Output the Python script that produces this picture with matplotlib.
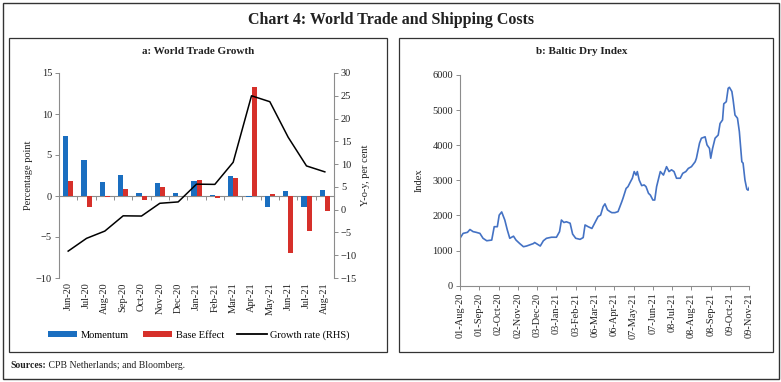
import matplotlib
matplotlib.use("Agg")
import matplotlib.pyplot as plt
import matplotlib.dates as mdates
from matplotlib.patches import Rectangle, Patch
from matplotlib.lines import Line2D
import numpy as np
import pandas as pd

# ---------------- data ----------------
months = ["Jun-20", "Jul-20", "Aug-20", "Sep-20", "Oct-20", "Nov-20", "Dec-20",
          "Jan-21", "Feb-21", "Mar-21", "Apr-21", "May-21", "Jun-21", "Jul-21", "Aug-21"]
momentum = [7.35, 4.4, 1.75, 2.6, 0.4, 1.6, 0.33, 1.85, 0.1, 2.45, -0.1, -1.4, 0.65, -1.4, 0.7]
base_effect = [1.8, -1.35, -0.15, 0.8, -0.5, 1.1, -0.05, 1.95, -0.2, 2.15, 13.25, 0.3, -6.95, -4.3, -1.85]
growth_rate = [-9.1, -6.3, -4.7, -1.35, -1.4, 1.4, 1.7, 5.6, 5.55, 10.4, 25.0, 23.7, 15.9, 9.6, 8.3]

bdi_dates = ["2020-08-01", "2020-08-06", "2020-08-13", "2020-08-17", "2020-08-22", "2020-08-27",
             "2020-09-02", "2020-09-07", "2020-09-13", "2020-09-21", "2020-09-25", "2020-09-30",
             "2020-10-03", "2020-10-07", "2020-10-12", "2020-10-16", "2020-10-20", "2020-10-26",
             "2020-10-30", "2020-11-05", "2020-11-11", "2020-11-16", "2020-11-27", "2020-11-29",
             "2020-12-08", "2020-12-13", "2020-12-18", "2020-12-26", "2021-01-03", "2021-01-08",
             "2021-01-11", "2021-01-15", "2021-01-19", "2021-01-25", "2021-01-29", "2021-02-03",
             "2021-02-10", "2021-02-15", "2021-02-18", "2021-02-23", "2021-03-01", "2021-03-06",
             "2021-03-11", "2021-03-15", "2021-03-19", "2021-03-22", "2021-03-26", "2021-03-30",
             "2021-04-02", "2021-04-07", "2021-04-12", "2021-04-18", "2021-04-20", "2021-04-25",
             "2021-04-28", "2021-05-02", "2021-05-05", "2021-05-08", "2021-05-11", "2021-05-13",
             "2021-05-16", "2021-05-20", "2021-05-24", "2021-05-27", "2021-05-31", "2021-06-03",
             "2021-06-07", "2021-06-10", "2021-06-13", "2021-06-17", "2021-06-19", "2021-06-24",
             "2021-06-29", "2021-07-03", "2021-07-07", "2021-07-11", "2021-07-15", "2021-07-21",
             "2021-07-25", "2021-07-30", "2021-08-03", "2021-08-08", "2021-08-14", "2021-08-16",
             "2021-08-21", "2021-08-24", "2021-08-30", "2021-09-02", "2021-09-06", "2021-09-08",
             "2021-09-11", "2021-09-15", "2021-09-20", "2021-09-23", "2021-09-27", "2021-09-29",
             "2021-10-03", "2021-10-06", "2021-10-08", "2021-10-12", "2021-10-14", "2021-10-17",
             "2021-10-21", "2021-10-24", "2021-10-28", "2021-10-30", "2021-11-02", "2021-11-05",
             "2021-11-07", "2021-11-09"]
bdi_values = [1350, 1490, 1520, 1600, 1540, 1520,
              1490, 1350, 1280, 1300, 1680, 1680,
              2010, 2100, 1870, 1590, 1350, 1410,
              1300, 1200, 1110, 1130, 1200, 1230,
              1130, 1280, 1350, 1380, 1380, 1540,
              1870, 1800, 1820, 1780, 1470, 1350,
              1320, 1370, 1730, 1680, 1630, 1800,
              1970, 2010, 2250, 2330, 2160, 2110,
              2080, 2080, 2110, 2390, 2490, 2770,
              2820, 2960, 3060, 3250, 3150, 3250,
              3010, 2850, 2870, 2820, 2630, 2580,
              2440, 2440, 2820, 3110, 3250, 3150,
              3390, 3250, 3300, 3250, 3060, 3060,
              3200, 3250, 3340, 3390, 3530, 3630,
              4060, 4200, 4240, 4010, 3910, 3630,
              3910, 4200, 4290, 4620, 4720, 5180,
              5240, 5620, 5650, 5530, 5290, 4860,
              4770, 4390, 3530, 3490, 3010, 2750,
              2720, 2800]

left_yticks = [-10, -5, 0, 5, 10, 15]
right_yticks = [-15, -10, -5, 0, 5, 10, 15, 20, 25, 30]
bdi_yticks = [0, 1000, 2000, 3000, 4000, 5000, 6000]

# ---------------- style ----------------
W, H = 781, 382
FONT = ["Liberation Serif", "DejaVu Serif"]
plt.rcParams["font.family"] = FONT
plt.rcParams["font.size"] = 7.5
BLUE = "#1a6ec0"
RED = "#d6302a"
BDI_C = "#4472c4"
SPINE = "#8c8c8c"
TXT = "#222222"

fig = plt.figure(figsize=(W / 100, H / 100), dpi=100)


def fx(px):
    return px / W


def fy(py):
    return 1 - py / H


# frames
fig.patches.append(Rectangle((fx(2.5), fy(378.5)), fx(776), 376 / H, transform=fig.transFigure,
                             fill=False, lw=1.0, ec="#333333"))
fig.patches.append(Rectangle((fx(8.5), fy(351.5)), fx(378.5), 314 / H, transform=fig.transFigure,
                             fill=False, lw=0.9, ec="#333333"))
fig.patches.append(Rectangle((fx(398.5), fy(351.5)), fx(374.5), 314 / H, transform=fig.transFigure,
                             fill=False, lw=0.9, ec="#333333"))

fig.text(0.5, fy(20), "Chart 4: World Trade and Shipping Costs", ha="center", va="center",
         fontsize=11.5, fontweight="bold", color=TXT)
fig.text(fx(198), fy(51), "a: World Trade Growth", ha="center", va="center",
         fontsize=8, fontweight="bold", color=TXT)
fig.text(fx(582), fy(51), "b: Baltic Dry Index", ha="center", va="center",
         fontsize=8, fontweight="bold", color=TXT)

# ---------------- panel a ----------------
ax = fig.add_axes([fx(59), fy(278), fx(334 - 59), (278 - 73) / H])
x = np.arange(len(months))
bw = 0.29
ax.bar(x - bw / 2, momentum, width=bw, color=BLUE, zorder=2)
ax.bar(x + bw / 2, base_effect, width=bw, color=RED, zorder=2)
ax.set_xlim(-0.5, len(months) - 0.5)
ax.set_ylim(-10, 15)
ax.set_yticks(left_yticks)
ax.set_xticks(x)
ax.set_xticklabels(months, rotation=90)
ax.tick_params(axis="x", length=0, pad=3, colors=TXT)
ax.tick_params(axis="y", direction="out", length=3, width=0.7, color=SPINE, pad=2, labelcolor=TXT)
for s in ["top", "bottom", "right"]:
    ax.spines[s].set_visible(False)
ax.spines["left"].set_color(SPINE)
ax.spines["left"].set_linewidth(0.8)
ax.set_ylabel("Percentage point", labelpad=2, color=TXT)

zero_loc = (0 - (-10)) / 25
sec = ax.secondary_xaxis(zero_loc)
sec.set_xticks(np.arange(-0.5, len(months), 1.0))
sec.tick_params(axis="x", direction="out", length=3, width=0.7, color=SPINE, labelbottom=False)
sec.spines["bottom"].set_color(SPINE)
sec.spines["bottom"].set_linewidth(0.8)

ax2 = ax.twinx()
ax2.plot(x, growth_rate, color="black", lw=1.1, zorder=3)
ax2.set_ylim(-15, 30)
ax2.set_yticks(right_yticks)
ax2.tick_params(axis="y", direction="out", length=3, width=0.7, color=SPINE, pad=2, labelcolor=TXT)
for s in ["top", "bottom", "left"]:
    ax2.spines[s].set_visible(False)
ax2.spines["right"].set_color(SPINE)
ax2.spines["right"].set_linewidth(0.8)
ax2.set_ylabel("Y-o-y, per cent", labelpad=3, color=TXT)

handles = [Patch(facecolor=BLUE, label="Momentum"),
           Patch(facecolor=RED, label="Base Effect"),
           Line2D([], [], color="black", lw=1.3, label="Growth rate (RHS)")]
fig.legend(handles=handles, loc="center", bbox_to_anchor=(fx(199), fy(335)), ncol=3,
           frameon=False, handlelength=2.8, handleheight=0.6, handletextpad=0.35,
           columnspacing=1.3, fontsize=7.5, borderaxespad=0, borderpad=0)

# ---------------- panel b ----------------
bx = fig.add_axes([fx(460), fy(285.7), fx(749.3 - 460), 210.7 / H])
d = pd.to_datetime(bdi_dates)
bx.plot(d, bdi_values, color=BDI_C, lw=1.2)
start = pd.Timestamp("2020-08-01")
end = pd.Timestamp("2021-11-09")
bx.set_xlim(start, end)
bx.set_ylim(0, 6000)
bx.set_yticks(bdi_yticks)
tick_dates = pd.date_range(start, end, freq="31D")
bx.set_xticks(tick_dates)
bx.xaxis.set_major_formatter(mdates.DateFormatter("%d-%b-%y"))
plt.setp(bx.get_xticklabels(), rotation=90)
bx.tick_params(axis="both", direction="out", length=3, width=0.7, color=SPINE, pad=2, labelcolor=TXT)
for s in ["top", "right"]:
    bx.spines[s].set_visible(False)
for s in ["left", "bottom"]:
    bx.spines[s].set_color(SPINE)
    bx.spines[s].set_linewidth(0.8)
bx.set_ylabel("Index", labelpad=6, color=TXT)

# sources line
src = fig.text(fx(10), fy(366), "Sources:", ha="left", va="center", fontsize=7,
               fontweight="bold", color=TXT)
bx.annotate(" CPB Netherlands; and Bloomberg.", xy=(1, 0), xycoords=src, va="bottom",
            ha="left", fontsize=7, color=TXT, annotation_clip=False)

fig.savefig("out.png", dpi=100)
